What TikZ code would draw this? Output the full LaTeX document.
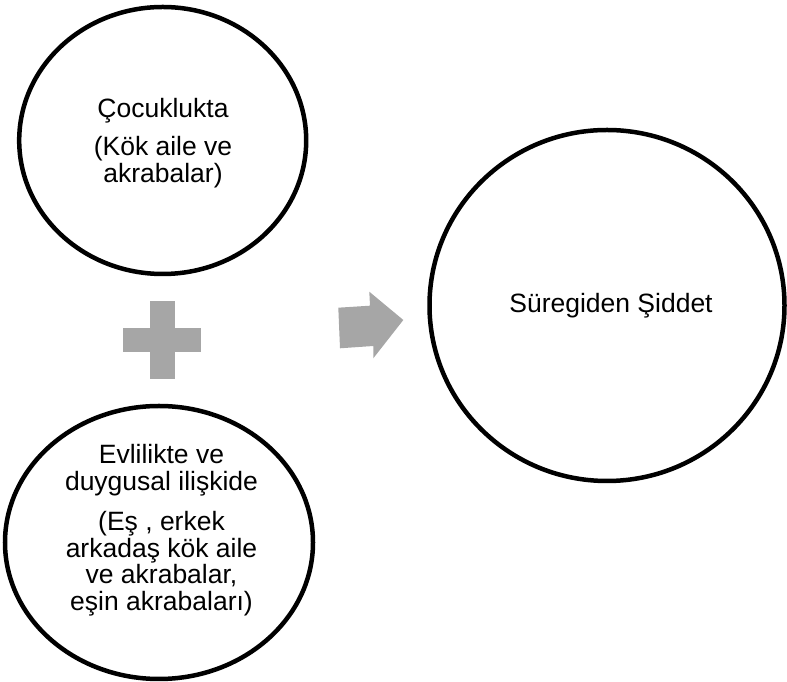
\documentclass[tikz,border=0pt]{standalone}
\usepackage{fontspec}
\setmainfont{Liberation Sans}
\usetikzlibrary{shapes.geometric,calc}
\definecolor{shapegray}{RGB}{166,166,166}
\begin{document}
\begin{tikzpicture}[x=1pt,y=1pt,
  ring/.style={ellipse,draw=black,line width=4.5pt,inner sep=0pt,outer sep=0pt,fill=white},
  txt/.style={align=center,inner sep=0pt,font=\fontsize{26.5}{26.5}\selectfont},
  sign/.style={fill=shapegray,draw=none}]
\useasboundingbox (0,0) rectangle (787,682);
% circles
\node[ring,minimum width=287pt,minimum height=267pt] (c1) at (162.7,541.5) {};
\node[ring,minimum width=308pt,minimum height=273pt] (c2) at (159,139.5) {};
\node[ring,minimum width=355pt,minimum height=351pt] (c3) at (607,376.5) {};
% texts
\node[txt] (t1) at (163,539) {Çocuklukta\\[12pt](Kök aile ve\\akrabalar)};
\node[txt] (t2) at (161.5,152) {Evlilikte ve\\duygusal ilişkide\\[14pt](Eş , erkek\\arkadaş kök aile\\ve akrabalar,\\eşin akrabaları)};
\node[txt,anchor=base] (t3) at (611,369) {Süregiden Şiddet};
% plus sign
\coordinate (pc) at (162.2,342);
\fill[sign] ($(pc)+(-12.5,-38.8)$) rectangle ($(pc)+(12.5,38.8)$);
\fill[sign] ($(pc)+(-38.8,-12.3)$) rectangle ($(pc)+(38.8,12.3)$);
% arrow
\fill[sign] (338.3,374.3) -- (340,333.7) -- (373.3,336) -- (373.3,323.7) -- (403.3,362) -- (369.3,390.3) -- (370,376.3) -- cycle;
\end{tikzpicture}
\end{document}
